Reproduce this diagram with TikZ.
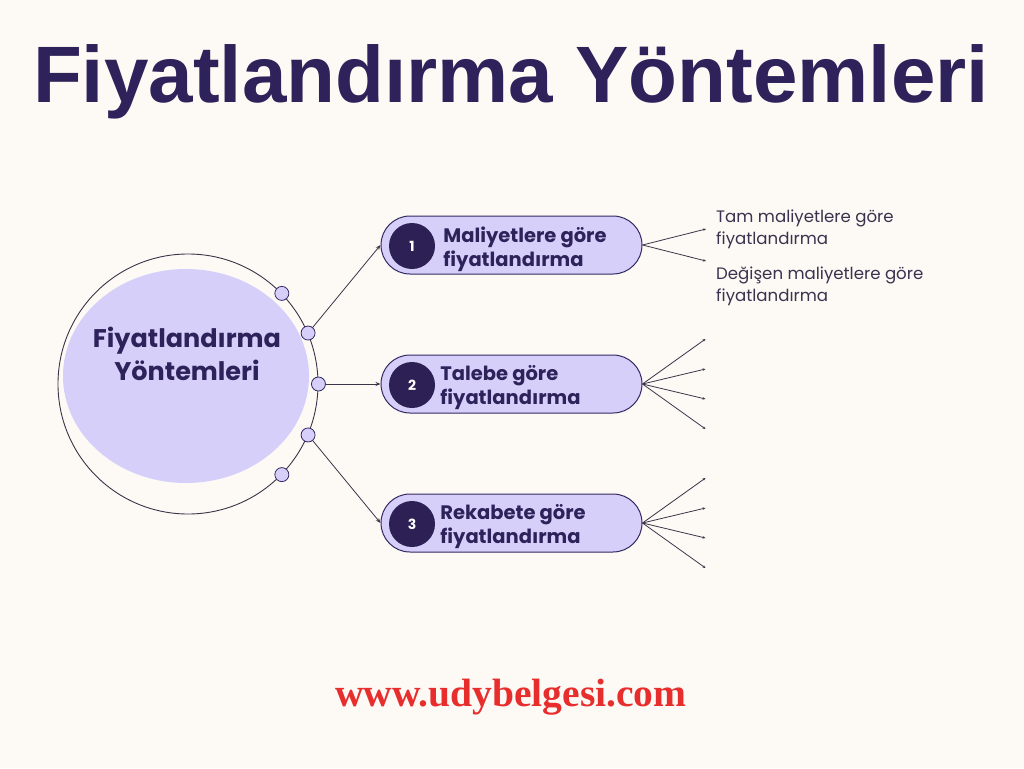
\documentclass[tikz,border=0pt]{standalone}
\usepackage{fontspec}
\setmainfont{Liberation Sans}
\newfontfamily\popfont{Poppins}
\newfontfamily\webfont{Liberation Serif}
\usepackage{tikz}
\usetikzlibrary{shapes,arrows,positioning,calc,arrows.meta}
\definecolor{pagebg}{RGB}{253,250,245}
\definecolor{titleink}{RGB}{46,34,90}
\definecolor{lavender}{RGB}{214,207,250}
\definecolor{ringline}{RGB}{60,52,72}
\definecolor{pillline}{RGB}{52,40,96}
\definecolor{numbg}{RGB}{45,32,85}
\definecolor{leafink}{RGB}{58,50,78}
\definecolor{webred}{RGB}{232,45,45}

\begin{document}
\begin{tikzpicture}[x=1pt, y=-1pt,
    ring/.style={circle, draw=ringline, line width=0.9pt, minimum size=260pt, inner sep=0pt},
    hub/.style={ellipse, fill=lavender, minimum width=246pt, minimum height=214pt, inner sep=0pt},
    hubtext/.style={font=\popfont\bfseries\fontsize{25.5}{33}\selectfont, text=titleink, align=center, inner sep=0pt},
    dot/.style={circle, draw=pillline, fill=lavender, line width=0.8pt, minimum size=14pt, inner sep=0pt},
    pill/.style={rectangle, rounded corners=29pt, draw=pillline, fill=lavender, line width=1pt, minimum width=261pt, minimum height=58pt},
    num/.style={circle, fill=numbg, text=white, minimum size=46pt, inner sep=0pt, font=\popfont\bfseries\fontsize{14}{14}\selectfont},
    mtext/.style={font=\popfont\bfseries\fontsize{19.5}{24}\selectfont, text=titleink, align=left, inner sep=0pt},
    leaf/.style={font=\popfont\fontsize{16.6}{22}\selectfont, text=leafink, align=left, inner sep=0pt},
    link/.style={-{Stealth[length=5pt,width=4pt]}, draw=ringline, line width=0.8pt},
    twig/.style={-{Stealth[length=3pt,width=2.5pt]}, draw=ringline, line width=0.8pt}
]
\useasboundingbox[fill=pagebg] (0,0) rectangle (1024,768);

% Title
\node[font=\bfseries\fontsize{80}{80}\selectfont, text=titleink, inner sep=0pt] (title) at (511,82) {Fiyatlandırma Yöntemleri};

% Hub
\node[ring] (outer) at (188,384) {};
\node[hub] (hub) at (186,376) {};
\node[hubtext] (hubt) at (187,354) {Fiyatlandırma\\Yöntemleri};
\foreach \a/\n in {44/1,23/2,0/3,-23/4,-44/5}
  \node[dot] (dot\n) at (outer.\a) {};

% Methods
\node[pill] (m1) at (511.5,245) {};
\node[pill] (m2) at (511.5,384) {};
\node[pill] (m3) at (511.5,523) {};
\node[num] (n1) at (412,246) {1};
\node[num] (n2) at (412,385) {2};
\node[num] (n3) at (412,524) {3};
\node[mtext, right=8pt of n1, yshift=-3pt] (t1) {Maliyetlere göre\\fiyatlandırma};
\node[mtext, right=5pt of n2, yshift=-3pt] (t2) {Talebe göre\\fiyatlandırma};
\node[mtext, right=5pt of n3, yshift=-3pt] (t3) {Rekabete göre\\fiyatlandırma};

% Leaves
\coordinate (e11) at (706,229);
\coordinate (e12) at (706,261);
\foreach \k in {2,3}
  \foreach \j/\dy in {1/-45,2/-15,3/15,4/45}
    \coordinate (e\k\j) at ($(m\k.east)+(63,\dy)$);
\node[leaf, anchor=west] (l1) at (716,229) {Tam maliyetlere göre\\fiyatlandırma};
\node[leaf, anchor=west] (l2) at (716,286) {Değişen maliyetlere göre\\fiyatlandırma};

% Arrows
\draw[link] (dot2) -- (m1.west);
\draw[link] (dot3) -- (m2.west);
\draw[link] (dot4) -- (m3.west);
\draw[twig] (m1.east) -- (e11);
\draw[twig] (m1.east) -- (e12);
\foreach \k in {2,3}
  \foreach \j in {1,...,4}
    \draw[twig] (m\k.east) -- (e\k\j);

% Footer
\node[font=\webfont\bfseries\fontsize{39.5}{39.5}\selectfont, text=webred, inner sep=0pt] (web) at (511,697) {www.udybelgesi.com};

\end{tikzpicture}
\end{document}
